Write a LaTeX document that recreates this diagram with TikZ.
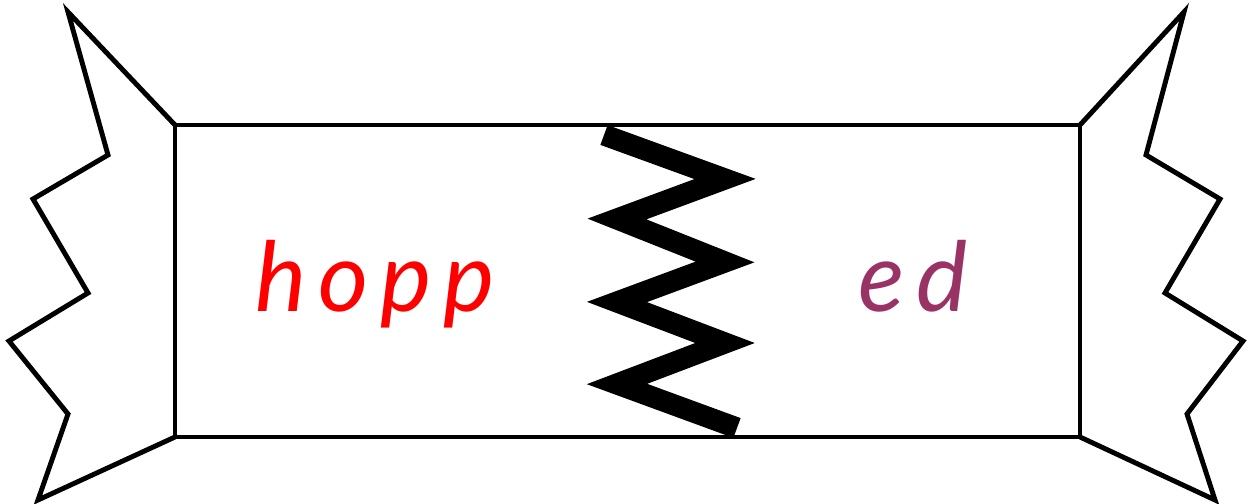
\documentclass[tikz,border=0pt]{standalone}
\usepackage{fontspec}
\usepackage{xcolor}
\newfontfamily\handfont[LetterSpace=12.0]{Lato}
\definecolor{stemcol}{RGB}{255,0,0}
\definecolor{sufcol}{RGB}{153,51,102}
\tikzstyle{wrap}=[line width=1.4pt,black,line join=miter]
\tikzstyle{snap}=[line width=6pt,black,line join=miter,line cap=butt]
\tikzstyle{word}=[anchor=base west,inner sep=0pt,font=\handfont\itshape\fontsize{27.5}{30}\selectfont]

\begin{document}
\begin{tikzpicture}[x=0.01cm,y=-0.01cm]
  \useasboundingbox (0,0) rectangle (1252,504);
  \def\zl{617}
  \def\zr{725}
  \coordinate (TL) at (175,125);
  \coordinate (TR) at (1080,125);
  \coordinate (BR) at (1080,437);
  \coordinate (BL) at (175,437);

  % bar
  \draw[wrap] (TL) rectangle (BR);

  % left end
  \draw[wrap] (TL) -- (68,12) -- (108,155) -- (33,199) -- (88,293)
              -- (9,341) -- (68,414) -- (38,500) -- (BL);

  % right end
  \draw[wrap] (TR) -- (1184,12) -- (1146,155) -- (1220,199) -- (1165,293)
              -- (1243,341) -- (1187,414) -- (1215,500) -- (BR);

  % break
  \draw[snap] (604,135) -- (\zr,179) -- (\zl,219) -- (\zr,262)
              -- (\zl,302) -- (\zr,343) -- (\zl,384) -- (737,428);

  \node[word,text=stemcol] (stem) at (255,312) {hopp};
  \node[word,text=sufcol] (suffix) at (858,312) {ed};
\end{tikzpicture}
\end{document}
